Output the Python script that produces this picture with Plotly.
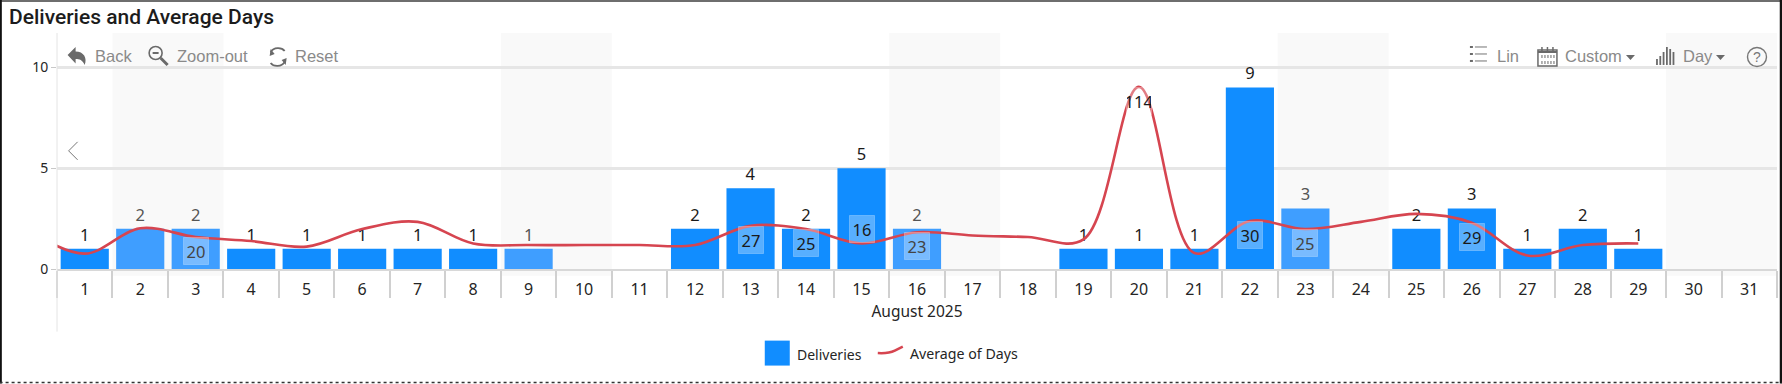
import plotly.graph_objects as go

days = list(range(1, 32))
deliveries = [1, 2, 2, 1, 1, 1, 1, 1, 1, None, None, 2, 4, 2, 5, 2, None, None, 1, 1, 1, 9, 3, None, 2, 3, 1, 2, 1, None, None]
avg_days_x = [0, 1, 2, 3, 4, 5, 6, 7, 8, 9, 10, 11, 12, 13, 14, 15, 16, 17, 18, 19, 20, 21, 22, 23, 24, 25, 26, 27, 28, 29]
avg_days_y = [24, 9.6, 25.5, 20, 17.5, 14, 25, 29.5, 16, 15, 15, 15, 15, 27, 25, 16, 23, 21, 20, 18.5, 114, 10, 30, 25, 29.5, 34.5, 29, 8.5, 15, 16]
avg_label_days = [3, 13, 14, 15, 16, 20, 22, 23, 26]
avg_label_shift = [-14, -14, -14, 14, -14, -14, -14, -14, -14]
weekends = [(2, 3), (9, 10), (16, 17), (23, 24), (30, 31)]
y_ticks = [0, 5, 10]

BLUE, BLUE_LT, RED = "#118DFF", "#3F9EFF", "#D64550"
WEEKEND_DAYS = {d for pair in weekends for d in pair}
L, R, T, B = 57.4, 1777.0, 33.0, 269.3
BODY = "Noto Sans"
TOOL = "Liberation Sans"
GREY = "#8a8a8a"
ICON = "#6a6a6a"


def fx(px):
    return (px - L) / (R - L)


def fy(py):
    return (B - py) / (B - T)


def path(*items):
    out = []
    for it in items:
        if isinstance(it, str):
            out.append(it)
        else:
            out.append(f"{fx(it[0]):.5f},{fy(it[1]):.5f}")
    return " ".join(out)


def pshape(d, fill=None, line=None, width=1.5):
    return dict(type="path", xref="paper", yref="paper", path=d, fillcolor=fill or "rgba(0,0,0,0)",
                line=dict(color=line or "rgba(0,0,0,0)", width=width if line else 0), layer="above")


def pline(x0, y0, x1, y1, color, width=1, dash="solid", layer="above"):
    return dict(type="line", xref="paper", yref="paper", x0=fx(x0), x1=fx(x1), y0=fy(y0), y1=fy(y1),
                line=dict(color=color, width=width, dash=dash), layer=layer)


def prect(x0, y0, x1, y1, fill=None, line=None, width=1):
    return dict(type="rect", xref="paper", yref="paper", x0=fx(x0), x1=fx(x1), y0=fy(y0), y1=fy(y1),
                fillcolor=fill or "rgba(0,0,0,0)", line=dict(color=line or "rgba(0,0,0,0)", width=width if line else 0),
                layer="above")


def pcircle(cx, cy, r, line, width=1.5):
    return dict(type="circle", xref="paper", yref="paper", x0=fx(cx - r), x1=fx(cx + r), y0=fy(cy + r), y1=fy(cy - r),
                line=dict(color=line, width=width), layer="above")


def ptext(x, y, text, size, color, family=BODY, anchor="left", weight=400):
    return dict(xref="paper", yref="paper", x=fx(x - 2), y=fy(y), text=text, showarrow=False, xanchor=anchor,
                yanchor="middle", font=dict(size=size, color=color, family=family, weight=weight))


fig = go.Figure()
fig.add_trace(go.Bar(
    x=days, y=deliveries, name="Deliveries", width=0.868,
    marker=dict(color=[BLUE_LT if d in WEEKEND_DAYS else BLUE for d in days], line=dict(width=0)),
    text=[("" if v is None else str(v)) for v in deliveries], textposition="outside", cliponaxis=False,
    textfont=dict(size=16.5, family=BODY, color=["#555555" if d in WEEKEND_DAYS else "#1a1a1a" for d in days]),
    showlegend=False,
))
fig.add_trace(go.Scatter(
    x=avg_days_x, y=avg_days_y, name="Average of Days", yaxis="y2", mode="lines",
    line=dict(color=RED, width=2.6, shape="spline", smoothing=1.0), showlegend=False,
))

shapes = [
    dict(type="rect", xref="x", yref="paper", x0=a - 0.5, x1=b + 0.5, y0=fy(276), y1=1, fillcolor="#f9f9f9",
         line=dict(width=0), layer="below")
    for a, b in weekends
]
shapes.append(pline(L, T, L, 332, "#e4e4e4", 1))
# frame
shapes += [
    pline(0, 1, 1782, 1, "#6e6e6e", 2),
    pline(1, 0, 1, 384, "#111111", 2.5),
    pline(1781, 0, 1781, 384, "#111111", 2.5),
    pline(0, 383, 1782, 383, "#333333", 1.5, "dot"),
]
# chevron
shapes.append(pshape(path("M", (78, 142), "L", (69, 151), "L", (78, 160)), line="#777777", width=1))
# back arrow
shapes.append(pshape(path("M", (68, 55), "L", (76, 47), "L", (76, 51.5), "C", (84, 51.5), (88, 58), (85, 65), "C", (83, 60), (80, 59), (76, 59), "L", (76, 63.5), "Z"), fill=ICON))
# magnifier
shapes += [pcircle(156, 53, 6.5, ICON, 1.6), pline(153, 53, 159, 53, ICON, 2), pline(161, 58, 168, 65, ICON, 3)]
# reset
shapes.append(pshape(path("M", (271, 52), "C", (274, 47), (282, 47), (285, 51)), line=ICON, width=1.8))
shapes.append(pshape(path("M", (285, 62), "C", (282, 67), (274, 67), (271, 63)), line=ICON, width=1.8))
shapes.append(pshape(path("M", (271, 49), "L", (270, 56), "L", (275, 54), "Z"), fill=ICON))
shapes.append(pshape(path("M", (286, 65), "L", (287, 58), "L", (282, 60), "Z"), fill=ICON))
# list icon
for yy in (47, 54, 61):
    shapes.append(pline(1470, yy, 1473, yy, ICON, 2))
    shapes.append(pline(1475, yy, 1487, yy, GREY, 1.2))
# calendar
shapes.append(prect(1538, 50, 1557, 66, line=ICON, width=1.5))
shapes.append(pline(1538, 52, 1557, 52, ICON, 2))
for xx in (1542, 1547.5, 1553):
    shapes.append(pline(xx, 47, xx, 52, ICON, 1.5))
for xx in (1542, 1545, 1548, 1551, 1554):
    shapes.append(pline(xx, 55, xx, 64, "#9a9a9a", 1.5, "dot"))
# bars icon
for i, top in enumerate((59, 56, 52, 47, 49, 52)):
    shapes.append(pline(1657 + i * 3.3, top, 1657 + i * 3.3, 65, ICON, 1.8))
# carets
shapes.append(pshape(path("M", (1626, 55), "L", (1635, 55), "L", (1630.5, 60), "Z"), fill=ICON))
shapes.append(pshape(path("M", (1716, 55), "L", (1725, 55), "L", (1720.5, 60), "Z"), fill=ICON))
# help
shapes.append(pcircle(1757, 57, 9.5, "#777777", 1.4))
# legend swatches
shapes.append(prect(765, 341, 790, 366, fill=BLUE))
shapes.append(pshape(path("M", (878, 353.5), "C", (886, 354), (891, 353), (895, 351), "L", (903, 347)), line=RED, width=2.5))

annotations = [
    ptext(9, 17, "Deliveries and Average Days", 21, "#1c1c1c", "Roboto", weight=500),
    ptext(95, 56, "Back", 16.5, GREY, TOOL),
    ptext(177, 56, "Zoom-out", 16.5, GREY, TOOL),
    ptext(295, 56, "Reset", 16.5, GREY, TOOL),
    ptext(1497, 56, "Lin", 16.5, GREY, TOOL),
    ptext(1565, 56, "Custom", 16.5, GREY, TOOL),
    ptext(1683, 56, "Day", 16.5, GREY, TOOL),
    ptext(1759, 57, "?", 14, "#777777", TOOL, "center"),
    ptext(797, 355, "Deliveries", 14, "#252525"),
    ptext(910, 354, "Average of Days", 14.2, "#252525"),
]
for d, shift in zip(avg_label_days, avg_label_shift):
    v = avg_days_y[avg_days_x.index(d)]
    annotations.append(dict(
        x=d, y=v, xref="x", yref="y2", yshift=shift, text=str(v), showarrow=False, width=24, height=26,
        bgcolor="rgba(255,255,255,0.30)", bordercolor="rgba(255,255,255,0.25)", borderwidth=1, borderpad=0,
        font=dict(size=16.5, family=BODY, color="#444444" if d in WEEKEND_DAYS else "#1a1a1a"),
    ))

y_top = (B - T) / 20.2
fig.update_layout(
    width=1782, height=384, autosize=False,
    margin=dict(l=L, r=1782 - R, t=T, b=384 - B, pad=0),
    paper_bgcolor="white", plot_bgcolor="white",
    font=dict(family=BODY, color="#252525", size=15),
    bargap=0.13, showlegend=False,
    xaxis=dict(
        range=[0.5, 31.5], tickmode="array", tickvals=days, ticktext=[str(d) for d in days], ticks="",
        ticklabelstandoff=5, tickfont=dict(size=16, family=BODY, color="#252525"),
        showgrid=False, zeroline=False, showline=True, linecolor="#d8d8d8", linewidth=2,
        minor=dict(tickmode="array", tickvals=[d - 0.5 for d in days] + [31.5], ticks="outside", ticklen=27, tickwidth=1.5, tickcolor="#d0d0d0", showgrid=False),
        title=dict(text="August 2025", font=dict(size=15.5, family=BODY, color="#252525"), standoff=5),
    ),
    yaxis=dict(
        range=[0, y_top], tickmode="array", tickvals=y_ticks, ticks="outside", ticklen=5, tickwidth=1, tickcolor="#c8c8c8",
        tickfont=dict(size=14, family=BODY, color="#252525"), showgrid=True, gridcolor="#e6e6e6", gridwidth=3,
        zeroline=False, showline=False,
    ),
    yaxis2=dict(range=[0, (B - T) / 1.6], overlaying="y", side="right", visible=False, showgrid=False, zeroline=False),
    shapes=shapes, annotations=annotations,
)
fig.write_html("out.html", config={"displayModeBar": False},
               post_script="document.body.style.margin='0';document.body.style.overflow='hidden';")
